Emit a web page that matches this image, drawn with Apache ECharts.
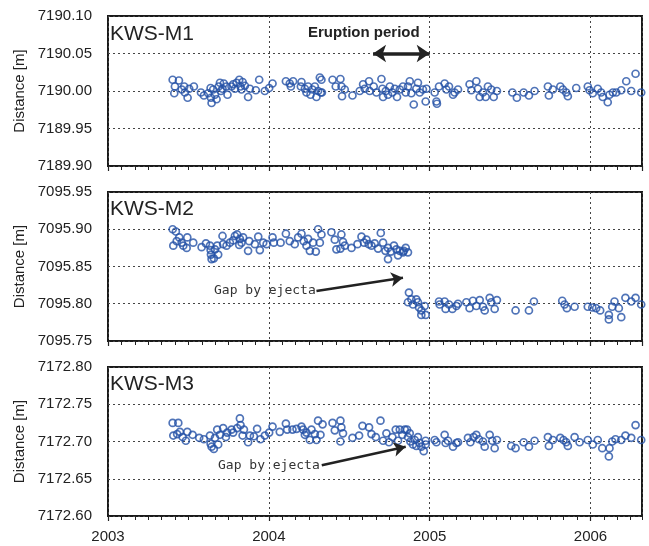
<!DOCTYPE html>
<html>
<head>
<meta charset="utf-8">
<script src="https://cdn.jsdelivr.net/npm/echarts@6/dist/echarts.min.js"></script>
<style>
html,body{margin:0;padding:0;background:#fff;}
#chart{width:649px;height:546px;}
</style>
</head>
<body>
<div id="chart"></div>
<script>
// ---- data ----
const panelNames = ['KWS-M1', 'KWS-M2', 'KWS-M3'];
const yMin = [7189.90, 7095.75, 7172.60];
const yMax = [7190.10, 7095.95, 7172.80];
const yStep = 0.05;
const xMin = 2003;
const xMax = 2006.32;
const yearTicks = [2003, 2004, 2005, 2006];
const eruptionPeriod = [2004.648, 2005.0];
const eruptionLevel = 7190.05;
const gapArrowM2 = [[2004.296, 7095.817], [2004.834, 7095.835]];
const gapArrowM3 = [[2004.329, 7172.668], [2004.851, 7172.693]];

const m1Data = [[2003.402,7190.015],[2003.441,7190.014],[2003.416,7190.006],[2003.412,7189.997],[2003.458,7190.002],[2003.474,7190.006],[2003.478,7189.998],[2003.495,7189.991],[2003.505,7190.003],[2003.534,7190.006],[2003.578,7189.998],[2003.596,7189.994],[2003.623,7189.997],[2003.638,7190.004],[2003.640,7189.991],[2003.644,7189.984],[2003.654,7190.002],[2003.665,7189.995],[2003.675,7189.989],[2003.688,7190.006],[2003.696,7190.011],[2003.702,7190.000],[2003.712,7190.003],[2003.720,7190.010],[2003.737,7190.006],[2003.743,7189.995],[2003.768,7190.006],[2003.778,7190.009],[2003.789,7190.003],[2003.799,7190.011],[2003.816,7190.015],[2003.824,7190.006],[2003.830,7190.002],[2003.837,7190.012],[2003.851,7190.007],[2003.871,7189.992],[2003.882,7190.003],[2003.919,7190.001],[2003.940,7190.015],[2003.975,7190.000],[2004.002,7190.004],[2004.023,7190.010],[2004.106,7190.013],[2004.130,7190.010],[2004.151,7190.013],[2004.137,7190.006],[2004.203,7190.012],[2004.199,7190.006],[2004.224,7190.003],[2004.234,7189.998],[2004.244,7190.006],[2004.259,7189.995],[2004.271,7190.002],[2004.286,7190.006],[2004.296,7189.992],[2004.306,7190.000],[2004.317,7190.018],[2004.323,7189.998],[2004.327,7190.015],[2004.330,7189.998],[2004.396,7190.015],[2004.416,7190.006],[2004.445,7190.016],[2004.452,7190.006],[2004.455,7189.993],[2004.472,7190.002],[2004.520,7189.994],[2004.565,7190.000],[2004.586,7190.009],[2004.596,7190.003],[2004.623,7190.013],[2004.627,7190.000],[2004.652,7190.006],[2004.669,7189.998],[2004.700,7190.016],[2004.706,7190.003],[2004.710,7189.992],[2004.727,7190.000],[2004.741,7189.995],[2004.752,7190.006],[2004.768,7189.998],[2004.783,7190.003],[2004.797,7189.992],[2004.814,7190.002],[2004.834,7190.006],[2004.851,7189.998],[2004.865,7190.006],[2004.876,7190.013],[2004.886,7189.997],[2004.901,7189.982],[2004.917,7190.003],[2004.927,7190.011],[2004.938,7189.998],[2004.958,7190.002],[2004.975,7189.986],[2004.980,7190.003],[2005.031,7189.998],[2005.042,7189.986],[2005.045,7189.983],[2005.058,7190.006],[2005.093,7190.010],[2005.104,7190.002],[2005.120,7190.006],[2005.145,7189.995],[2005.155,7189.998],[2005.176,7190.002],[2005.248,7190.009],[2005.259,7190.001],[2005.290,7190.013],[2005.300,7190.003],[2005.311,7189.992],[2005.331,7189.998],[2005.348,7189.992],[2005.362,7190.006],[2005.383,7190.002],[2005.398,7189.992],[2005.418,7190.000],[2005.514,7189.998],[2005.542,7189.991],[2005.584,7189.998],[2005.617,7189.994],[2005.652,7190.000],[2005.735,7190.006],[2005.741,7189.994],[2005.766,7190.002],[2005.812,7190.006],[2005.828,7190.002],[2005.849,7189.998],[2005.859,7189.993],[2005.911,7190.004],[2005.983,7190.006],[2005.994,7190.001],[2006.014,7189.997],[2006.045,7190.003],[2006.066,7189.998],[2006.076,7189.992],[2006.107,7189.985],[2006.118,7189.995],[2006.139,7189.998],[2006.160,7189.998],[2006.191,7190.001],[2006.222,7190.013],[2006.253,7190.000],[2006.280,7190.023],[2006.315,7189.998]];

const m2Data = [[2003.402,7095.900],[2003.422,7095.897],[2003.406,7095.878],[2003.427,7095.884],[2003.443,7095.889],[2003.458,7095.882],[2003.468,7095.878],[2003.489,7095.875],[2003.493,7095.889],[2003.530,7095.882],[2003.582,7095.876],[2003.609,7095.881],[2003.634,7095.878],[2003.638,7095.872],[2003.640,7095.866],[2003.644,7095.860],[2003.658,7095.861],[2003.665,7095.873],[2003.679,7095.878],[2003.685,7095.866],[2003.712,7095.891],[2003.716,7095.880],[2003.737,7095.878],[2003.758,7095.882],[2003.778,7095.885],[2003.789,7095.891],[2003.803,7095.893],[2003.816,7095.879],[2003.820,7095.887],[2003.830,7095.882],[2003.840,7095.889],[2003.871,7095.871],[2003.878,7095.884],[2003.913,7095.880],[2003.934,7095.890],[2003.944,7095.872],[2003.965,7095.882],[2003.986,7095.880],[2004.023,7095.889],[2004.031,7095.882],[2004.073,7095.882],[2004.106,7095.894],[2004.130,7095.884],[2004.161,7095.880],[2004.182,7095.889],[2004.203,7095.894],[2004.217,7095.884],[2004.234,7095.878],[2004.244,7095.887],[2004.255,7095.871],[2004.275,7095.882],[2004.292,7095.870],[2004.306,7095.900],[2004.317,7095.882],[2004.327,7095.893],[2004.389,7095.896],[2004.410,7095.886],[2004.420,7095.873],[2004.445,7095.874],[2004.451,7095.893],[2004.461,7095.883],[2004.472,7095.878],[2004.514,7095.875],[2004.551,7095.880],[2004.576,7095.890],[2004.592,7095.882],[2004.607,7095.886],[2004.621,7095.880],[2004.638,7095.878],[2004.658,7095.881],[2004.679,7095.874],[2004.696,7095.895],[2004.710,7095.882],[2004.725,7095.871],[2004.741,7095.875],[2004.741,7095.860],[2004.758,7095.870],[2004.778,7095.878],[2004.793,7095.873],[2004.803,7095.865],[2004.814,7095.871],[2004.834,7095.869],[2004.839,7095.871],[2004.851,7095.875],[2004.865,7095.869],[2004.871,7095.815],[2004.865,7095.802],[2004.886,7095.806],[2004.896,7095.799],[2004.917,7095.806],[2004.927,7095.802],[2004.934,7095.795],[2004.948,7095.791],[2004.948,7095.785],[2004.969,7095.797],[2004.975,7095.785],[2005.058,7095.803],[2005.062,7095.799],[2005.093,7095.803],[2005.099,7095.793],[2005.120,7095.799],[2005.141,7095.793],[2005.166,7095.797],[2005.176,7095.800],[2005.228,7095.802],[2005.248,7095.794],[2005.269,7095.804],[2005.290,7095.797],[2005.311,7095.805],[2005.331,7095.796],[2005.342,7095.791],[2005.373,7095.808],[2005.383,7095.802],[2005.404,7095.793],[2005.418,7095.805],[2005.534,7095.791],[2005.617,7095.791],[2005.648,7095.803],[2005.824,7095.804],[2005.839,7095.799],[2005.853,7095.794],[2005.901,7095.796],[2005.983,7095.796],[2006.011,7095.795],[2006.035,7095.794],[2006.060,7095.791],[2006.114,7095.785],[2006.114,7095.779],[2006.135,7095.796],[2006.149,7095.803],[2006.176,7095.794],[2006.191,7095.782],[2006.217,7095.808],[2006.253,7095.803],[2006.280,7095.808],[2006.315,7095.799]];

const m3Data = [[2003.402,7172.725],[2003.437,7172.725],[2003.406,7172.708],[2003.430,7172.710],[2003.447,7172.713],[2003.464,7172.706],[2003.484,7172.701],[2003.493,7172.713],[2003.526,7172.709],[2003.567,7172.705],[2003.596,7172.703],[2003.634,7172.708],[2003.638,7172.697],[2003.644,7172.693],[2003.658,7172.690],[2003.665,7172.705],[2003.679,7172.716],[2003.685,7172.696],[2003.696,7172.709],[2003.716,7172.718],[2003.733,7172.706],[2003.741,7172.712],[2003.768,7172.716],[2003.778,7172.712],[2003.803,7172.718],[2003.820,7172.731],[2003.824,7172.722],[2003.837,7172.708],[2003.845,7172.716],[2003.871,7172.699],[2003.882,7172.708],[2003.907,7172.707],[2003.927,7172.717],[2003.948,7172.703],[2003.975,7172.708],[2004.002,7172.712],[2004.023,7172.720],[2004.068,7172.713],[2004.106,7172.724],[2004.114,7172.716],[2004.147,7172.716],[2004.172,7172.717],[2004.203,7172.720],[2004.213,7172.716],[2004.224,7172.709],[2004.234,7172.712],[2004.255,7172.702],[2004.265,7172.716],[2004.286,7172.710],[2004.296,7172.702],[2004.306,7172.728],[2004.321,7172.709],[2004.334,7172.723],[2004.396,7172.725],[2004.410,7172.715],[2004.445,7172.728],[2004.451,7172.719],[2004.445,7172.700],[2004.461,7172.711],[2004.520,7172.705],[2004.561,7172.708],[2004.582,7172.721],[2004.623,7172.719],[2004.638,7172.710],[2004.665,7172.706],[2004.694,7172.728],[2004.710,7172.701],[2004.731,7172.711],[2004.747,7172.699],[2004.768,7172.706],[2004.789,7172.716],[2004.803,7172.701],[2004.814,7172.716],[2004.830,7172.709],[2004.845,7172.716],[2004.859,7172.716],[2004.865,7172.706],[2004.876,7172.711],[2004.880,7172.700],[2004.896,7172.696],[2004.907,7172.702],[2004.917,7172.694],[2004.927,7172.706],[2004.938,7172.698],[2004.948,7172.693],[2004.963,7172.687],[2004.975,7172.696],[2004.975,7172.701],[2005.031,7172.702],[2005.042,7172.699],[2005.093,7172.709],[2005.099,7172.698],[2005.114,7172.701],[2005.145,7172.693],[2005.166,7172.698],[2005.176,7172.699],[2005.238,7172.705],[2005.253,7172.699],[2005.273,7172.706],[2005.290,7172.709],[2005.306,7172.703],[2005.331,7172.700],[2005.342,7172.693],[2005.373,7172.709],[2005.389,7172.701],[2005.404,7172.691],[2005.418,7172.702],[2005.507,7172.694],[2005.534,7172.691],[2005.584,7172.699],[2005.617,7172.693],[2005.652,7172.701],[2005.735,7172.706],[2005.741,7172.694],[2005.766,7172.702],[2005.812,7172.705],[2005.832,7172.702],[2005.849,7172.699],[2005.859,7172.694],[2005.901,7172.706],[2005.932,7172.699],[2005.983,7172.702],[2006.014,7172.696],[2006.045,7172.702],[2006.073,7172.691],[2006.114,7172.680],[2006.118,7172.691],[2006.135,7172.700],[2006.155,7172.703],[2006.191,7172.702],[2006.217,7172.708],[2006.253,7172.705],[2006.280,7172.722],[2006.315,7172.702]];

const panelData = [m1Data, m2Data, m3Data];

// ---- chart ----
const chart = echarts.init(document.getElementById('chart'), null, {renderer: 'canvas'});
const FONT = '"Liberation Sans", Arial, sans-serif';
const ink = '#222';
const gridTops = [16, 192, 367];
const gridHeights = [150, 149, 149];

const grids = [], xAxes = [], yAxes = [], series = [];
for (let i = 0; i < 3; i++) {
  grids.push({left: 108, top: gridTops[i], width: 534, height: gridHeights[i],
    show: true, borderColor: '#1a1a1a', borderWidth: 2, backgroundColor: 'transparent'});
  // monthly tick axis
  xAxes.push({type: 'value', gridIndex: i, position: 'bottom', min: xMin, max: xMax, interval: 1 / 12,
    axisLine: {show: false}, axisLabel: {show: false}, splitLine: {show: false},
    axisTick: {show: true, inside: false, length: 4, lineStyle: {color: ink, width: 1}}});
  // year axis: grid lines + labels
  xAxes.push({type: 'value', gridIndex: i, position: 'bottom', min: xMin, max: xMax, interval: 1,
    axisLine: {show: false},
    axisTick: {show: true, inside: false, length: 5, lineStyle: {color: ink, width: 1.2}},
    splitLine: {show: true, lineStyle: {color: '#444', type: [2, 3], width: 1}},
    axisLabel: {show: i === 2, showMaxLabel: false, margin: 13, fontSize: 15, color: ink, fontFamily: FONT,
      formatter: v => yearTicks.indexOf(Math.round(v)) >= 0 && Math.abs(v - Math.round(v)) < 1e-6 ? String(Math.round(v)) : ''}});
  yAxes.push({type: 'value', gridIndex: i, position: 'left', min: yMin[i], max: yMax[i], interval: yStep,
    axisLine: {show: false}, axisTick: {show: false},
    splitLine: {show: true, lineStyle: {color: '#444', type: [2, 3], width: 1}},
    axisLabel: {margin: 16, fontSize: 15, color: ink, fontFamily: FONT, formatter: v => v.toFixed(2)},
    name: 'Distance [m]', nameLocation: 'middle', nameGap: 80,
    nameTextStyle: {fontSize: 15, color: ink, fontFamily: FONT}});
  const s = {type: 'scatter', xAxisIndex: 2 * i + 1, yAxisIndex: i, data: panelData[i],
    symbol: 'circle', symbolSize: 7, silent: true,
    itemStyle: {color: 'rgba(255,255,255,0)', borderColor: '#2451a6', borderWidth: 1.7}};
  series.push(s);
}
series[0].markLine = {silent: true, symbol: ['arrow', 'arrow'], symbolSize: [13, 13],
  label: {show: false}, lineStyle: {color: ink, width: 3.5, type: 'solid'},
  data: [[{coord: [eruptionPeriod[0], eruptionLevel]}, {coord: [eruptionPeriod[1], eruptionLevel]}]]};
series[1].markLine = {silent: true, symbol: ['none', 'arrow'], symbolSize: [11, 12],
  label: {show: false}, lineStyle: {color: ink, width: 2.5, type: 'solid'},
  data: [[{coord: gapArrowM2[0]}, {coord: gapArrowM2[1]}]]};
series[2].markLine = {silent: true, symbol: ['none', 'arrow'], symbolSize: [11, 12],
  label: {show: false}, lineStyle: {color: ink, width: 2.5, type: 'solid'},
  data: [[{coord: gapArrowM3[0]}, {coord: gapArrowM3[1]}]]};

const graphics = [];
const titleTops = [24, 199, 374];
for (let i = 0; i < 3; i++) {
  graphics.push({type: 'text', left: 110, top: titleTops[i],
    style: {text: panelNames[i], fontSize: 21, fill: ink, fontFamily: FONT}});
}
graphics.push({type: 'text', left: 308, top: 25,
  style: {text: 'Eruption period', fontSize: 15, fontWeight: 'bold', fill: ink, fontFamily: FONT}});
graphics.push({type: 'text', left: 214, top: 284,
  style: {text: 'Gap by ejecta', fontSize: 13, fill: '#333', fontFamily: '"DejaVu Sans Mono", monospace'}});
graphics.push({type: 'text', left: 218, top: 459,
  style: {text: 'Gap by ejecta', fontSize: 13, fill: '#333', fontFamily: '"DejaVu Sans Mono", monospace'}});

chart.setOption({
  animation: false,
  backgroundColor: '#fff',
  textStyle: {fontFamily: FONT},
  grid: grids, xAxis: xAxes, yAxis: yAxes, series: series, graphic: graphics
});
</script>
</body>
</html>
